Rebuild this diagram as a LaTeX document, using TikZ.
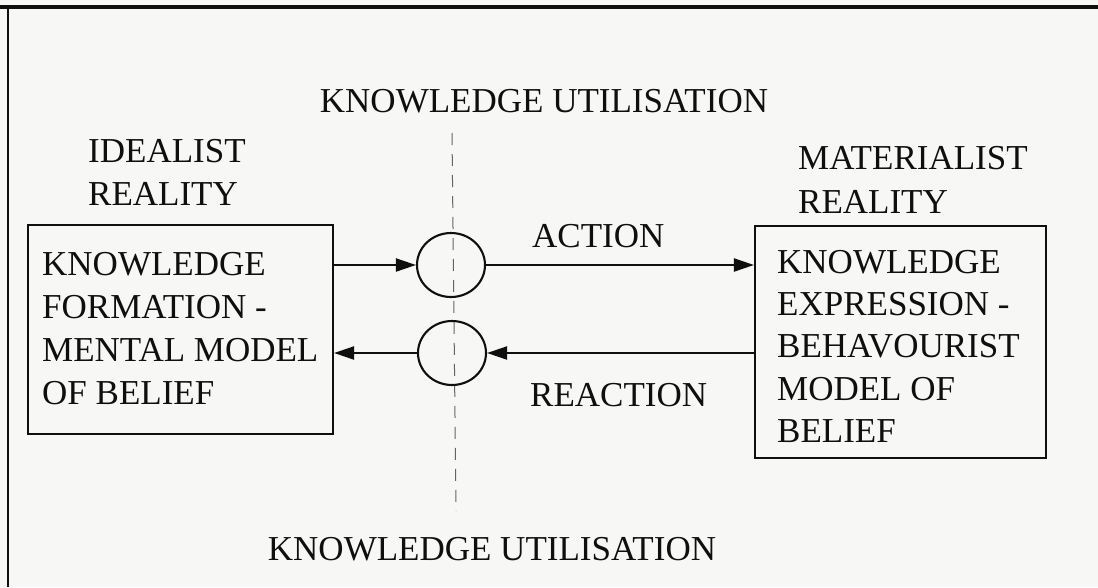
\documentclass[tikz,border=0pt]{standalone}
\usepackage{fontspec}
\setmainfont{Liberation Serif}
\usetikzlibrary{arrows.meta,shapes.geometric}
\definecolor{paper}{RGB}{247,247,245}
\definecolor{ink}{RGB}{15,15,15}
\definecolor{guide}{RGB}{100,100,100}
\begin{document}
\begin{tikzpicture}[x=1pt,y=-1pt,
  lbl/.style={anchor=base west,inner sep=0pt,text=ink,font=\fontsize{35}{43}\selectfont},
  ctr/.style={anchor=base,inner sep=0pt,text=ink,font=\fontsize{35}{43}\selectfont},
  boxnode/.style={draw=ink,line width=2.1pt,rectangle,inner sep=0pt},
  ring/.style={draw=ink,line width=2.1pt,ellipse,inner sep=0pt,minimum width=68pt,minimum height=64pt},
  arr/.style={draw=ink,line width=2.1pt,-{Triangle[length=20pt,width=13pt]}},
  axis/.style={draw=guide,line width=1pt,dash pattern=on 12pt off 9pt}]
% page and frame
\fill[paper] (0,0) rectangle (1098,587);
\useasboundingbox (0,0) rectangle (1098,587);
\draw[ink,line width=3.5pt] (0,7) -- (1098,7);
\draw[ink,line width=2pt] (7.5,7) -- (7.5,587);

% vertical dashed axis
\coordinate (axtop) at (452,133);
\coordinate (axbot) at (456,511);
\draw[axis] (axtop) -- (axbot);

% headings
\node[ctr] (topttl) at (544,112) {KNOWLEDGE UTILISATION};
\node[ctr] (botttl) at (492,560) {KNOWLEDGE UTILISATION};

\node[lbl] (ideal1) at (88,162) {IDEALIST};
\node[lbl] (ideal2) at (88,205) {REALITY};
\node[lbl] (mat1) at (798,169) {MATERIALIST};
\node[lbl] (mat2) at (798,213) {REALITY};

% boxes
\node[boxnode,minimum width=305pt,minimum height=209pt] (lbox) at (180.5,329.5) {};
\node[boxnode,minimum width=291pt,minimum height=232pt] (rbox) at (900.5,342) {};

\node[lbl] (l1) at (42,275) {KNOWLEDGE};
\node[lbl] (l2) at (42,318) {FORMATION -};
\node[lbl] (l3) at (42,361) {MENTAL MODEL};
\node[lbl] (l4) at (42,404) {OF BELIEF};

\node[lbl] (r1) at (777,273) {KNOWLEDGE};
\node[lbl] (r2) at (777,315) {EXPRESSION -};
\node[lbl] (r3) at (777,357) {BEHAVOURIST};
\node[lbl] (r4) at (777,400) {MODEL OF};
\node[lbl] (r5) at (777,442) {BELIEF};

% junction circles
\node[ring] (c1) at (451,265) {};
\node[ring] (c2) at (452,353) {};

% flow labels
\node[lbl] (act) at (532,247) {ACTION};
\node[lbl] (react) at (530,406) {REACTION};

% connectors
\draw[arr] (lbox.east |- c1) -- (c1.west);
\draw[arr] (c1.east) -- (rbox.west |- c1);
\draw[arr] (rbox.west |- c2) -- (c2.east);
\draw[arr] (c2.west) -- (lbox.east |- c2);
\end{tikzpicture}
\end{document}
